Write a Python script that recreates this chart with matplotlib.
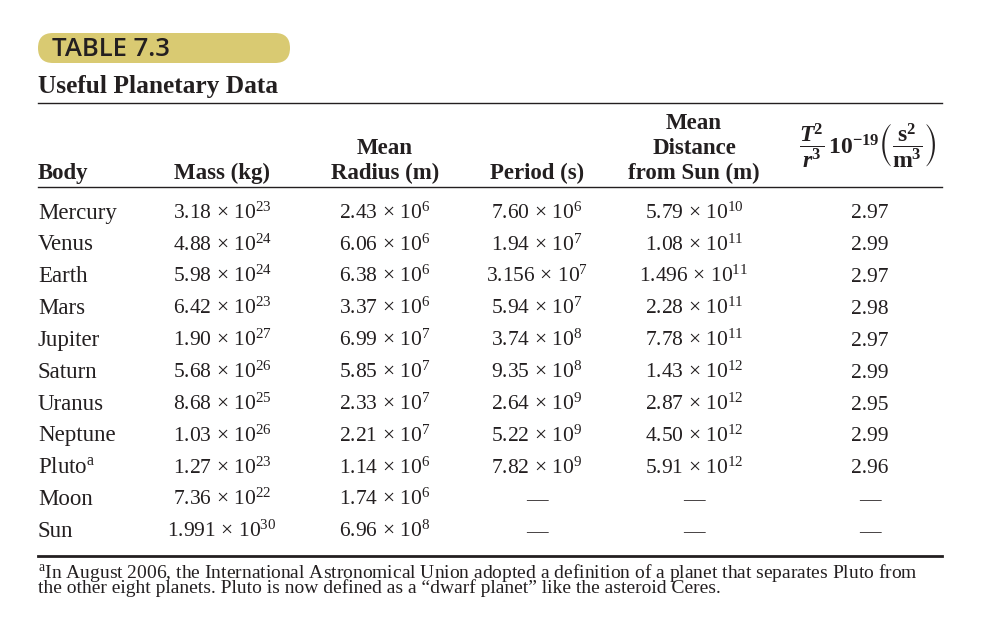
import matplotlib.pyplot as plt
from matplotlib.patches import FancyBboxPatch

plt.rcParams['font.family'] = ['Liberation Serif', 'DejaVu Serif']
plt.rcParams['mathtext.fontset'] = 'custom'
plt.rcParams['mathtext.rm'] = 'Liberation Serif'
plt.rcParams['mathtext.it'] = 'Liberation Serif:italic'
plt.rcParams['mathtext.bf'] = 'Liberation Serif:bold'
plt.rcParams['mathtext.bfit'] = 'Liberation Serif:bold:italic'
plt.rcParams['mathtext.fallback'] = 'stix'

# table data
bodies = ["Mercury", "Venus", "Earth", "Mars", "Jupiter", "Saturn",
          "Uranus", "Neptune", r"Pluto$^{\mathrm{a}}$", "Moon", "Sun"]
mass = [("3.18", 23), ("4.88", 24), ("5.98", 24), ("6.42", 23), ("1.90", 27),
        ("5.68", 26), ("8.68", 25), ("1.03", 26), ("1.27", 23), ("7.36", 22),
        ("1.991", 30)]
radius = [("2.43", 6), ("6.06", 6), ("6.38", 6), ("3.37", 6), ("6.99", 7),
          ("5.85", 7), ("2.33", 7), ("2.21", 7), ("1.14", 6), ("1.74", 6),
          ("6.96", 8)]
period = [("7.60", 6), ("1.94", 7), ("3.156", 7), ("5.94", 7), ("3.74", 8),
          ("9.35", 8), ("2.64", 9), ("5.22", 9), ("7.82", 9), None, None]
distance = [("5.79", 10), ("1.08", 11), ("1.496", 11), ("2.28", 11), ("7.78", 11),
            ("1.43", 12), ("2.87", 12), ("4.50", 12), ("5.91", 12), None, None]
ratio = ["2.97", "2.99", "2.97", "2.98", "2.97", "2.99", "2.95", "2.99", "2.96",
         None, None]

footnote = [r"$^{\mathrm{a}}$In August 2006, the International Astronomical Union adopted a definition of a planet that separates Pluto from",
            "the other eight planets. Pluto is now defined as a \u201cdwarf planet\u201d like the asteroid Ceres."]


def sci(v):
    if v is None:
        return "\u2014"
    return "%s \u00d7 $10^{%d}$" % v


W, H = 1004, 630
fig = plt.figure(figsize=(W / 100, H / 100), dpi=100)
ax = fig.add_axes([0, 0, 1, 1])
ax.set_xlim(0, W)
ax.set_ylim(H, 0)
ax.axis('off')

ink = '#231f20'
fs = 16.5    # names / headers
nfs = 15.5   # numbers

# title badge
ax.add_patch(FancyBboxPatch((38, 33), 252, 30, boxstyle="round,pad=0,rounding_size=15",
                            fc='#d9ca72', ec='none'))
ax.text(52, 49, "TABLE 7.3", family='Open Sans', fontweight='semibold', fontsize=18.5,
        color=ink, va='center', ha='left')
ax.text(38, 93, "Useful Planetary Data", fontsize=18.3, fontweight='bold', color=ink,
        va='baseline')

ax.plot([38, 942], [103, 103], color=ink, lw=1.0)
ax.plot([38, 942], [187, 187], color=ink, lw=1.0)
ax.plot([38, 942], [556, 556], color=ink, lw=2.0)

# header
hb = 179
hkw = dict(fontsize=fs, fontweight='bold', color=ink, va='baseline',
           linespacing=1.25, multialignment='center')
ax.text(38, hb, "Body", **hkw)
ax.text(222, hb, "Mass (kg)", ha='center', **hkw)
ax.text(385, hb, "Mean\nRadius (m)", ha='center', **hkw)
ax.text(537, hb, "Period (s)", ha='center', **hkw)
ax.text(694, hb, "Mean\nDistance\nfrom Sun (m)", ha='center', **hkw)
ax.text(868, 146,
        r"$\dfrac{\mathbfit{T}^{\mathbf{2}}}{\mathbfit{r}^{\mathbf{3}}}\,\mathbf{10^{-19}}\left(\dfrac{\mathbf{s}^{\mathbf{2}}}{\mathbf{m}^{\mathbf{3}}}\right)$",
        fontsize=17, color=ink, va='center', ha='center')

# rows
cols = [(222, mass), (385, radius), (537, period), (694, distance)]
for i, name in enumerate(bodies):
    y = 218.5 + 31.85 * i
    ax.text(38, y, name, fontsize=fs, color=ink, va='baseline')
    for x, vals in cols:
        ax.text(x, y, sci(vals[i]), fontsize=nfs, color=ink, va='baseline',
                ha='center')
    r = ratio[i] if ratio[i] is not None else "\u2014"
    ax.text(870, y, r, fontsize=nfs, color=ink, va='baseline', ha='center')

ax.text(38, 593, "\n".join(footnote), fontsize=14, color=ink, va='baseline',
        linespacing=0.68)

fig.savefig("out.png", dpi=100)
